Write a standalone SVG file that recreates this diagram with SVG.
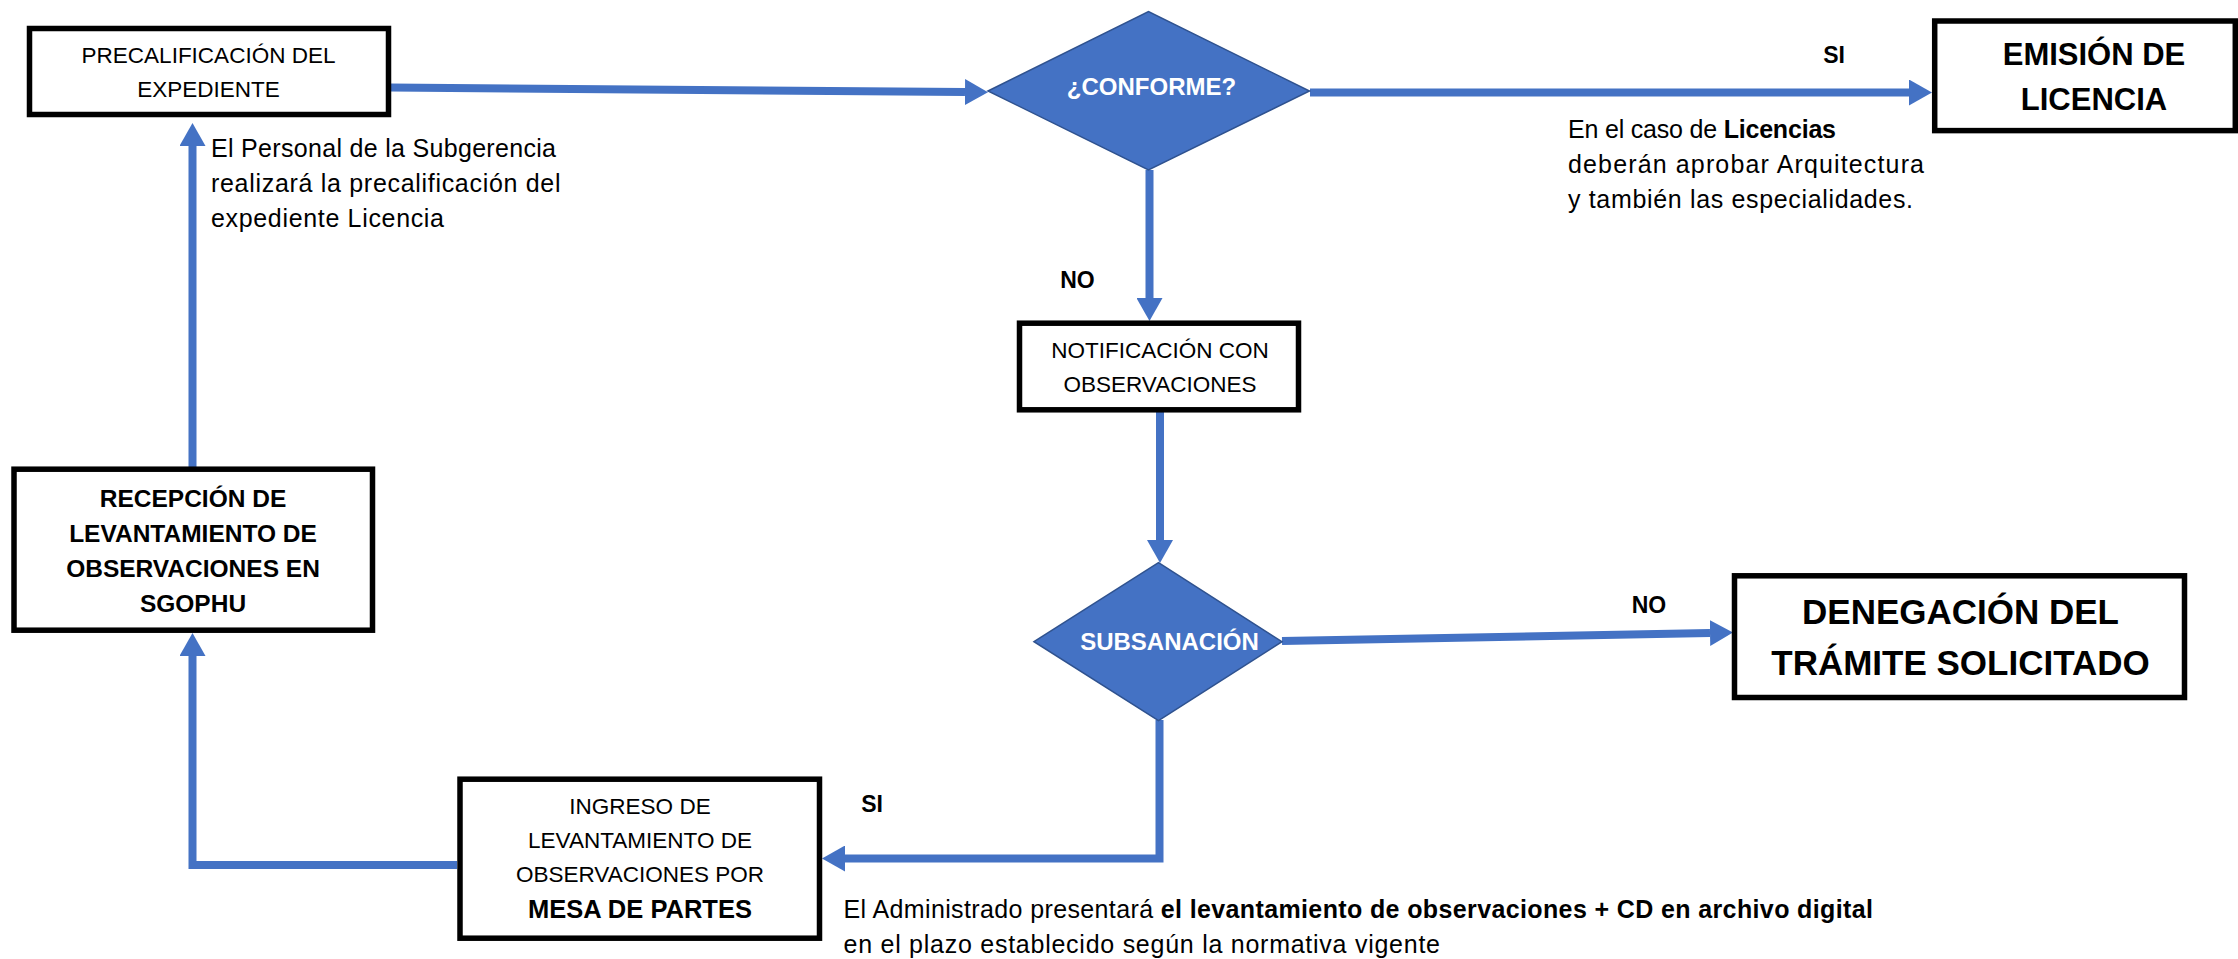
<svg xmlns="http://www.w3.org/2000/svg" width="2238" height="959" viewBox="0 0 2238 959">
<style>
.box{fill:#ffffff;stroke:#000000;stroke-width:5.5}
.dia{fill:#4472C4;stroke:#2F528F;stroke-width:1.5}
.con{fill:none;stroke:#4472C4;stroke-width:8;stroke-linejoin:miter;stroke-linecap:butt}
text{font-family:"Liberation Sans",Arial,sans-serif;fill:#000000}
.t{font-size:22.5px;text-anchor:middle}
.tb{font-size:24.5px;font-weight:bold;text-anchor:middle}
.dt{font-size:24px;font-weight:bold;fill:#ffffff;text-anchor:middle}
.lbl{font-size:23px;font-weight:bold;text-anchor:middle}
.note{font-size:25px}
.b{font-weight:bold}
</style>
<defs>
<marker id="ah" markerUnits="userSpaceOnUse" markerWidth="24" markerHeight="26" viewBox="0 0 24 26" refX="0" refY="13" orient="auto">
<path d="M0,0 L23,13 L0,26 z" fill="#4472C4"/>
</marker>
</defs>
<g id="connectors">
<path class="con" d="M390,87.5 L965,92" marker-end="url(#ah)"/>
<path class="con" d="M1310,92.5 L1909,92.5" marker-end="url(#ah)"/>
<path class="con" d="M1149.5,170 L1149.5,298" marker-end="url(#ah)"/>
<path class="con" d="M1160,412 L1160,540" marker-end="url(#ah)"/>
<path class="con" d="M1282,641 L1710,633" marker-end="url(#ah)"/>
<path class="con" d="M1159.5,720 L1159.5,858.5 L845,858.5" marker-end="url(#ah)"/>
<path class="con" d="M457,865 L192.5,865 L192.5,656" marker-end="url(#ah)"/>
<path class="con" d="M192.5,467 L192.5,146" marker-end="url(#ah)"/>
</g>
<g id="precalificacion">
<rect class="box" x="29.5" y="28.5" width="359" height="86"/>
<text class="t" x="208.5" y="63">PRECALIFICACIÓN DEL</text>
<text class="t" x="208.5" y="97">EXPEDIENTE</text>
</g>
<g id="conforme">
<polygon class="dia" points="988,91 1148.5,11.5 1309.5,91 1148.5,170"/>
<text class="dt" x="1151.5" y="95">¿CONFORME?</text>
</g>
<g id="emision">
<rect class="box" x="1934.7" y="21" width="300.6" height="109.6"/>
<text class="tb" style="font-size:31px" x="2094" y="65">EMISIÓN DE</text>
<text class="tb" style="font-size:31px" x="2094" y="110">LICENCIA</text>
</g>
<g id="notificacion">
<rect class="box" x="1019.5" y="323.2" width="279" height="86.6"/>
<text class="t" x="1160" y="358.3">NOTIFICACIÓN CON</text>
<text class="t" x="1160" y="391.7">OBSERVACIONES</text>
</g>
<g id="subsanacion">
<polygon class="dia" points="1034,641.7 1158.5,562.7 1282,641.7 1158.5,720.7"/>
<text class="dt" x="1169.5" y="650">SUBSANACIÓN</text>
</g>
<g id="denegacion">
<rect class="box" x="1734.5" y="575.8" width="450" height="121.7"/>
<text class="tb" style="font-size:35px" x="1960.5" y="624">DENEGACIÓN DEL</text>
<text class="tb" style="font-size:35px" x="1960.5" y="675">TRÁMITE SOLICITADO</text>
</g>
<g id="ingreso">
<rect class="box" x="460" y="779.2" width="359.5" height="159"/>
<text class="t" x="640" y="814.3">INGRESO DE</text>
<text class="t" x="640" y="847.7">LEVANTAMIENTO DE</text>
<text class="t" x="640" y="881.7">OBSERVACIONES POR</text>
<text class="tb" style="font-size:25.5px" x="640" y="918.3">MESA DE PARTES</text>
</g>
<g id="recepcion">
<rect class="box" x="14" y="469.2" width="358.5" height="161"/>
<text class="tb" x="193" y="506.7">RECEPCIÓN DE</text>
<text class="tb" x="193" y="541.7">LEVANTAMIENTO DE</text>
<text class="tb" x="193" y="576.7">OBSERVACIONES EN</text>
<text class="tb" x="193" y="611.7">SGOPHU</text>
</g>
<g id="labels">
<text class="lbl" x="1834" y="63">SI</text>
<text class="lbl" x="1077.5" y="288">NO</text>
<text class="lbl" x="1649" y="613">NO</text>
<text class="lbl" x="872" y="811.7">SI</text>
</g>
<g id="notes">
<text class="note" x="211" y="156.7" textLength="345">El Personal de la Subgerencia</text>
<text class="note" x="211" y="191.7" textLength="349.5">realizará la precalificación del</text>
<text class="note" x="211" y="226.7" textLength="233">expediente Licencia</text>
<text class="note" x="1568" y="138.3" textLength="268">En el caso de <tspan class="b">Licencias</tspan></text>
<text class="note" x="1568" y="173.3" textLength="356">deberán aprobar Arquitectura</text>
<text class="note" x="1568" y="208.3" textLength="345">y también las especialidades.</text>
<text class="note" x="843.5" y="918.3" textLength="1029.5">El Administrado presentará <tspan class="b">el levantamiento de observaciones + CD en archivo digital</tspan></text>
<text class="note" x="843.5" y="953.3" textLength="596.5">en el plazo establecido según la normativa vigente</text>
</g>
</svg>
